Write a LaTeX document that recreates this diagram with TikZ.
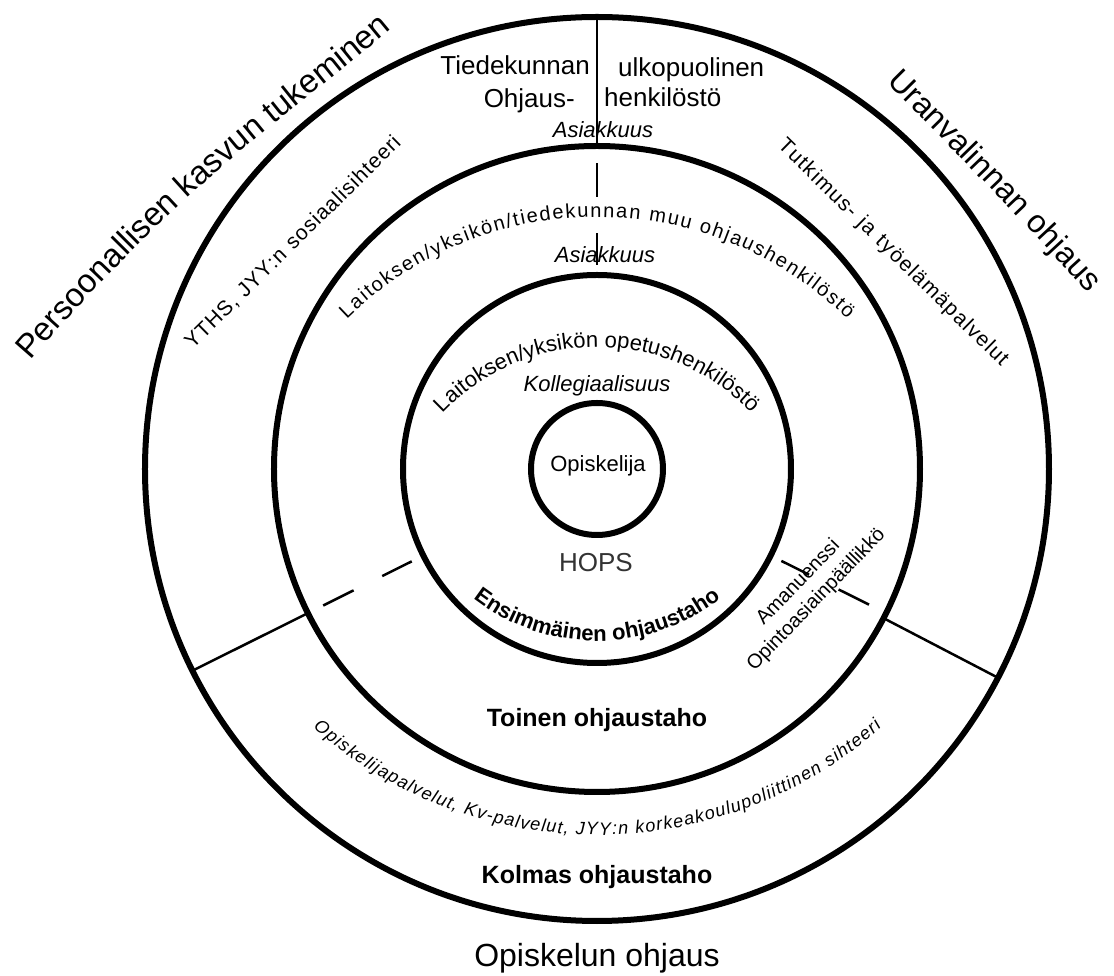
\documentclass[tikz,border=0pt]{standalone}
\usepackage{fontspec}
\setmainfont{Liberation Sans}
\usetikzlibrary{decorations.text}
\tikzset{>=stealth}
\newcommand{\ptsize}[1]{\fontsize{#1}{#1}\selectfont}
\tikzset{
  every node/.style={inner sep=0pt},
  ring/.style={line width=6pt},
  split/.style={line width=2.5pt},
  curvetext/.style={decorate, decoration={text along path, text align=center, text={#1}}},
  fittext/.style={decorate, decoration={text along path, text align=fit to path, text={#1}}},
}

\begin{document}
\begin{tikzpicture}[x=1pt,y=1pt]
\useasboundingbox[fill=white] (-597,-507) rectangle (517,469);
\coordinate (O) at (0,0);
% renkaat
\draw[ring] (O) circle (66);
\draw[ring] (O) circle (194);
\draw[ring] (O) circle (323);
\draw[ring] (O) circle (452);
% jakoviivat
\draw[split] (90:323) -- (90:452);
\draw[split] (90:272) -- (90:306) (90:204) -- (90:236);
\draw[split] (206.5:323) -- (206.5:452);
\draw[split] (206.5:272) -- (206.5:306) (206.5:207) -- (206.5:240);
\draw[split] (-27.5:323) -- (-27.5:452);
\draw[split] (-26.5:270) -- (-26.5:304) (-26.5:206) -- (-26.5:237);
% tekstit
\node[anchor=base, font=\ptsize{22}] (opisk) at (1,-3) {Opiskelija};
\node[anchor=base, font=\ptsize{26}, text=black!80] (hops) at (-1,-103) {HOPS};
\node[anchor=base, font=\ptsize{22}\itshape] (kolleg) at (0,77) {Kollegiaalisuus};
\node[anchor=base, font=\ptsize{22}\itshape] (asiak1) at (8,206) {Asiakkuus};
\node[anchor=base, font=\ptsize{22}\itshape] (asiak2) at (6,331) {Asiakkuus};
\node[anchor=base east, font=\ptsize{26}] (tiede) at (-7,394) {Tiedekunnan};
\node[anchor=base east, font=\ptsize{26}] (ohjaus) at (-22,361) {Ohjaus-};
\node[anchor=base west, font=\ptsize{26}] (ulko) at (21,392) {ulkopuolinen};
\node[anchor=base west, font=\ptsize{26}] (henk) at (7,362) {henkilöstö};
\node[rotate=46, align=center, font=\ptsize{20}, text depth=0pt] (aman) at (209,-121)
  {Amanuenssi\\[5pt]Opintoasiainpäällikkö};
\node[anchor=base, font=\ptsize{25}\bfseries] (toinen) at (0,-258) {Toinen ohjaustaho};
\node[anchor=base, font=\ptsize{25}\bfseries] (kolmas) at (0,-414) {Kolmas ohjaustaho};
\node[anchor=base, font=\ptsize{32}] (otsikko) at (0,-497) {Opiskelun ohjaus};
% kaarevat tekstit
\path[curvetext={|\ptsize{22}|Laitoksen/yksikön opetushenkilöstö}]
  ([shift={(0,-90.8)}]136.8:212.8) arc[start angle=136.8, end angle=43.2, radius=212.8];
\path[fittext={|\ptsize{20}|Laitoksen/yksikön/tiedekunnan muu ohjaushenkilöstö}]
  ([shift={(0,-105.4)}]134.4:357.4) arc[start angle=134.4, end angle=45.6, radius=357.4];
\path[curvetext={|\ptsize{22}\bfseries|Ensimmäinen ohjaustaho}]
  ([shift={(0,30.8)}]229.8:202.8) arc[start angle=229.8, end angle=310.2, radius=202.8];
\path[fittext={|\ptsize{18}\itshape|Opiskelijapalvelut, Kv-palvelut, JYY:n korkeakoulupoliittinen sihteeri}]
  ([shift={(0,64.4)}]228.7:430.4) arc[start angle=228.7, end angle=311.3, radius=430.4];
\path[fittext={|\ptsize{21}|YTHS, JYY:n sosiaalisihteeri}] (-404,119) -- (-195,325);
\path[fittext={|\ptsize{21}|Tutkimus- ja työelämäpalvelut}] (180,322) -- (404,102);
\path[curvetext={|\ptsize{33}|Persoonallisen kasvun tukeminen}]
  (-573,101) .. controls (-411,289) and (-322,342) .. (-198,446);
\path[curvetext={|\ptsize{32}|Uranvalinnan ohjaus}]
  (282,394) .. controls (354,322) and (430,244) .. (498,168);
\end{tikzpicture}
\end{document}
